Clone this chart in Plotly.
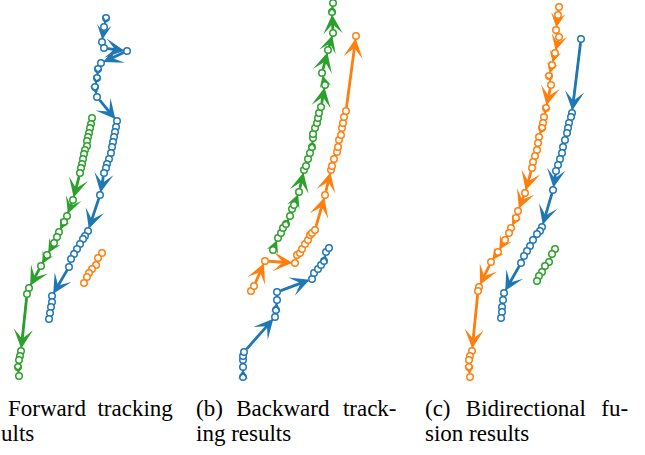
import math
import plotly.graph_objects as go

# ---------------- data (panel-local coordinates, y grows downward) -------------
# (a) Forward tracking
a_blue_x = [106, 104, 102, 104, 127, 101, 98, 97, 95, 97, 117, 116, 115, 114, 113, 112, 111, 109,
            107, 106, 104, 100, 88, 85, 83, 80, 77, 74, 71, 69, 52, 52, 51, 50, 49]
a_blue_y = [18, 27, 42, 48, 51, 63, 69, 78, 87, 97, 121, 127, 132, 137, 142, 147, 153, 159,
            164, 168, 173, 195, 231, 236, 239, 244, 249, 254, 259, 267, 296, 302, 307, 313, 319]
a_green_x = [92, 91, 90, 89, 88, 87, 87, 85, 84, 83, 82, 81, 80, 73, 67, 64, 59, 57, 54, 47,
             41, 29, 27, 21, 20, 19, 18, 19]
a_green_y = [118, 124, 128, 133, 137, 141, 146, 150, 154, 159, 164, 168, 173, 200, 216, 222,
             232, 237, 243, 255, 266, 288, 294, 351, 356, 360, 367, 376]
a_orange_x = [102, 98, 96, 92, 89, 87, 84]
a_orange_y = [253, 258, 265, 269, 273, 277, 283]

# (b) Backward tracking
b_green_x = [58, 63, 66, 68, 71, 75, 77, 79, 84, 89, 91, 93, 95, 97, 98, 98, 100, 102, 103, 104,
             106, 110, 107, 113, 118, 117, 118]
b_green_y = [250, 238, 233, 228, 224, 216, 209, 205, 192, 170, 166, 159, 153, 147, 138, 134, 128,
             123, 118, 113, 107, 85, 73, 50, 33, 12, 3]
b_orange_x = [36, 39, 50, 80, 82, 85, 87, 90, 93, 95, 97, 100, 110, 116, 117, 119, 122, 123, 124,
              126, 127, 128, 129, 131, 141]
b_orange_y = [291, 286, 261, 263, 255, 253, 249, 244, 240, 235, 233, 230, 195, 170, 166, 159, 152,
              147, 140, 135, 128, 123, 117, 111, 36]
b_blue_x = [28, 28, 28, 28, 29, 60, 61, 62, 62, 97, 99, 103, 106, 109, 111, 114]
b_blue_y = [377, 367, 360, 356, 352, 317, 310, 300, 292, 279, 273, 269, 265, 261, 252, 248]

# (c) Bidirectional fusion
c_orange_x = [129, 128, 126, 129, 125, 122, 119, 121, 116, 114, 113, 112, 109, 108, 107, 105, 103,
              102, 95, 88, 86, 81, 79, 75, 68, 61, 49, 48, 42, 40, 39, 39, 40]
c_orange_y = [7, 15, 30, 37, 53, 65, 76, 85, 108, 117, 123, 128, 137, 143, 150, 156, 162, 168, 193,
              211, 218, 228, 233, 240, 252, 262, 287, 291, 351, 356, 360, 367, 377]
c_blue_x = [151, 142, 141, 139, 138, 137, 135, 133, 132, 130, 128, 126, 123, 112, 110, 107, 103,
            100, 97, 94, 91, 74, 73, 72, 72, 71]
c_blue_y = [39, 113, 117, 123, 128, 133, 140, 147, 153, 159, 165, 171, 190, 227, 231, 234, 240,
            246, 251, 256, 263, 293, 300, 307, 312, 318]
c_green_x = [125, 122, 119, 115, 112, 109, 107]
c_green_y = [249, 254, 262, 266, 272, 276, 281]

caption_lines = [
    ["Forward\u2002tracking", "ults"],
    ["(b)\u2002\u200aBackward\u2002\u200atrack-", "ing results"],
    ["(c)\u2002\u2006Bidirectional\u2002\u2006fu-", "sion results"],
]

BLUE, ORANGE, GREEN = "#1f77b4", "#ff7f0e", "#2ca02c"

panels = [
    ("x", [(a_blue_x, a_blue_y, BLUE), (a_green_x, a_green_y, GREEN), (a_orange_x, a_orange_y, ORANGE)]),
    ("x2", [(b_green_x, b_green_y, GREEN), (b_orange_x, b_orange_y, ORANGE), (b_blue_x, b_blue_y, BLUE)]),
    ("x3", [(c_orange_x, c_orange_y, ORANGE), (c_blue_x, c_blue_y, BLUE), (c_green_x, c_green_y, GREEN)]),
]

fig = go.Figure()
annotations = []
for xa, tracks in panels:
    for xs, ys, col in tracks:
        fig.add_trace(go.Scatter(
            x=xs, y=ys, xaxis=xa, yaxis="y", mode="lines+markers",
            line=dict(color=col, width=1.6),
            marker=dict(symbol="circle", size=6.5, color="white", line=dict(color=col, width=1.5)),
            hoverinfo="skip", showlegend=False,
        ))
        for i in range(len(xs) - 1):
            L = math.hypot(xs[i + 1] - xs[i], ys[i + 1] - ys[i])
            if L < 8.5:
                continue
            s = max(0.45, min(1.0, L / 20.0))
            annotations.append(dict(
                x=xs[i + 1], y=ys[i + 1], ax=xs[i], ay=ys[i],
                xref=xa, yref="y", axref=xa, ayref="y",
                text="", showarrow=True, arrowhead=3, arrowsize=s * 1.15,
                arrowwidth=2.8, arrowcolor=col, standoff=2.5, startstandoff=2.5,
            ))

# captions (pixel positions of each line's left edge and vertical centre)
cap_x = [[6, -1], [194, 194], [423, 423]]
cap_y = [408, 433]
for (l1, l2), xs0 in zip(caption_lines, cap_x):
    for txt, x0, yc in zip((l1, l2), xs0, cap_y):
        annotations.append(dict(
            text=txt, x=x0 / 645, y=1 - yc / 455, xref="paper", yref="paper",
            xanchor="left", yanchor="middle", showarrow=False,
            font=dict(family="Liberation Serif, Times New Roman, serif", size=23, color="black"),
        ))

ax_common = dict(visible=False, showgrid=False, zeroline=False, range=[0, 215], fixedrange=True)
fig.update_layout(
    width=645, height=455, margin=dict(l=0, r=0, t=0, b=0),
    paper_bgcolor="white", plot_bgcolor="white",
    xaxis=dict(domain=[0, 1 / 3], anchor="y", **ax_common),
    xaxis2=dict(domain=[1 / 3, 2 / 3], anchor="y", **ax_common),
    xaxis3=dict(domain=[2 / 3, 1], anchor="y", **ax_common),
    yaxis=dict(domain=[0, 1], range=[455, 0], visible=False, showgrid=False, zeroline=False,
               fixedrange=True),
    annotations=annotations,
)
fig.write_html(
    "out.html",
    config={"displayModeBar": False, "staticPlot": True},
    post_script="document.body.style.margin='0';document.body.style.overflow='hidden';",
)
